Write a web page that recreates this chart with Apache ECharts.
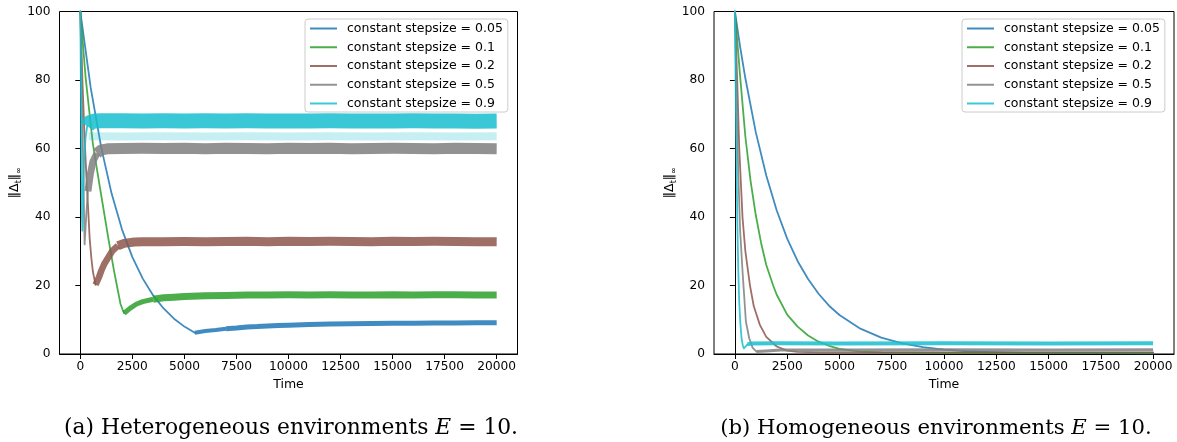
<!DOCTYPE html>
<html><head><meta charset="utf-8">
<script src="https://cdn.jsdelivr.net/npm/echarts@6/dist/echarts.min.js"></script>
<style>html,body{margin:0;padding:0;background:#fff}#c{width:1177px;height:442px}</style>
</head><body><div id="c"></div><script>
const seriesNames = ['constant stepsize = 0.05','constant stepsize = 0.1','constant stepsize = 0.2','constant stepsize = 0.5','constant stepsize = 0.9'];
const xTickValues = [0,2500,5000,7500,10000,12500,15000,17500,20000];
const captions = ['(a) Heterogeneous environments ', '(b) Homogeneous environments '];

// ---- (a) Heterogeneous: smooth transient part, early noisy rise, noisy steady part ----
const hetCurve005 = [[0,100],[500,77.7],[1000,60.4],[1500,46.9],[2000,36.4],[2500,28.3],[3000,22.0],[3500,17.1],[4000,13.3],[4500,10.3],[5000,8.0],[5500,6.2]];
const hetRise005 = [[5500,6.2],[6000,6.7],[6500,7.0],[7000,7.4]];
const hetNoise005 = [[7000,7.4],[7500,7.6],[8000,7.9],[8500,8.0],[9000,8.2],[9500,8.3],[10000,8.4],[11000,8.6],[12000,8.75],[13000,8.8],[14000,8.9],[15000,8.95],[16000,8.95],[17000,9.05],[18000,9.05],[19000,9.1],[20000,9.1]];
const hetCurve01 = [[0,100],[250,81],[446,70],[600,61.5],[815,53.3],[1000,46.5],[1326,34.5],[1613,24.5],[1930,14.6],[2100,11.9]];
const hetRise01 = [[2100,11.9],[2400,13.4],[2700,14.6],[3000,15.3],[3500,16.0]];
const hetNoise01 = [[3500,16.0],[4000,16.4],[4500,16.6],[5000,16.8],[6000,17.0],[7000,17.1],[8000,17.2],[9000,17.25],[10000,17.3],[11000,17.25],[12000,17.3],[13000,17.25],[14000,17.2],[15000,17.3],[16000,17.25],[17000,17.3],[18000,17.3],[19000,17.2],[20000,17.25]];
const hetCurve02 = [[0,100],[100,80],[206,63],[290,52],[365,43.6],[446,34],[530,28],[605,24],[734,20.2]];
const hetRise02 = [[734,20.2],[900,22.5],[1007,24.3],[1150,26.3],[1326,28.0],[1550,30.2],[1806,31.6]];
const hetNoise02 = [[1806,31.6],[2100,32.3],[2600,32.7],[3000,32.75],[4000,32.8],[5000,32.85],[6000,32.8],[7000,32.85],[8000,32.9],[9000,32.8],[10000,32.9],[11000,32.85],[12000,32.9],[13000,32.85],[14000,32.8],[15000,32.9],[16000,32.85],[17000,32.9],[18000,32.85],[19000,32.8],[20000,32.75]];
const hetCurve05 = [[0,100],[60,82],[130,58],[206,32],[280,40],[365,47.5]];
const hetRise05 = [[365,47.5],[480,52.5],[605,56.2],[800,58.6]];
const hetNoise05 = [[800,58.6],[1007,59.6],[1300,59.9],[2000,60.0],[3000,60.05],[4000,60.0],[5000,60.05],[6000,59.95],[7000,60.05],[8000,60.0],[9000,59.95],[10000,60.05],[11000,60.0],[12000,60.05],[13000,59.95],[14000,60.0],[15000,60.05],[16000,60.0],[17000,59.95],[18000,60.05],[19000,60.0],[20000,59.95]];
const hetCurve09 = [[0,100],[25,80],[50,58],[80,40],[100,36],[130,45],[180,56],[250,63],[330,66.5]];
const hetNoise09 = [[330,66.5],[450,67.6],[700,68.0],[1000,68.1],[2000,68.1],[3000,68.05],[4000,68.1],[5000,68.05],[6000,68.1],[7000,68.05],[8000,68.1],[9000,68.05],[10000,68.0],[11000,68.05],[12000,68.1],[13000,68.05],[14000,68.0],[15000,68.05],[16000,68.1],[17000,68.05],[18000,68.0],[19000,67.95],[20000,68.0]];
const hetFringe09 = [[400,63.6],[2000,63.5],[4000,63.6],[6000,63.5],[8000,63.6],[10000,63.5],[12000,63.6],[14000,63.5],[16000,63.6],[18000,63.5],[20000,63.6]];

// ---- (b) Homogeneous ----
const homCurve005 = [[0,100],[250,89.7],[500,80.5],[1000,64.7],[1500,52.1],[2000,41.9],[2500,33.7],[3000,27.1],[3500,21.9],[4000,17.6],[4500,14.1],[5000,11.4],[6000,7.4],[7000,4.8],[8000,3.1],[9000,2.0],[10000,1.3],[11000,0.85],[12000,0.6],[14000,0.35],[17000,0.25],[20000,0.2]];
const homCurve01 = [[0,100],[250,81],[500,63.5],[750,50.5],[1000,40.5],[1250,32.5],[1500,26],[1830,20],[2000,17.3],[2500,11.5],[3000,8.0],[3500,5.4],[4000,3.6],[4500,2.4],[5000,1.5],[6000,0.7],[7000,0.45],[10000,0.3],[20000,0.3]];
const homCurve02 = [[0,100],[111,79.6],[207,60.1],[366,39.7],[500,30],[716,20.2],[900,14],[1193,8.5],[1500,5],[2000,2.2],[2500,1.0],[3000,0.6],[4000,0.5],[20000,0.5]];
const homCurve05 = [[0,100],[50,84],[100,68],[159,53.4],[250,36],[366,24],[525,9.5],[684,4.6],[850,1.8],[1034,0.7]];
const homNoise05 = [[1034,0.7],[1500,0.9],[2200,1.2],[5000,1.2],[10000,1.25],[15000,1.2],[20000,1.25]];
const homCurve09 = [[0,100],[32,80],[60,64],[111,40],[160,25],[205,15.3],[260,9],[318,4.6],[380,2.4],[430,1.65],[500,2.0],[600,2.8]];
const homNoise09 = [[600,2.8],[800,3.1],[2000,3.15],[5000,3.1],[10000,3.15],[15000,3.1],[20000,3.15]];

const COLORS = ['rgba(31,119,180,0.85)','rgba(44,160,44,0.85)','rgba(140,86,75,0.85)','rgba(127,127,127,0.85)','rgba(23,190,207,0.85)'];
const FONT = 'DejaVu Sans';

function line(name, data, color, gi, width, cap) {
  return {type:'line', name, data, xAxisIndex:gi, yAxisIndex:gi, symbol:'none', showSymbol:false,
    color, lineStyle:{color, width, cap: cap||'round', join:'round'}, emphasis:{disabled:true}, silent:true, animation:false};
}

const series = [
  line(seriesNames[0], hetCurve005, COLORS[0], 0, 1.8), line('r0a', hetRise005, COLORS[0], 0, 4, 'butt'), line('n0a', hetNoise005, COLORS[0], 0, 5, 'butt'),
  line(seriesNames[1], hetCurve01, COLORS[1], 0, 1.8), line('r1a', hetRise01, COLORS[1], 0, 5, 'butt'), line('n1a', hetNoise01, COLORS[1], 0, 7, 'butt'),
  line(seriesNames[2], hetCurve02, COLORS[2], 0, 1.8), line('r2a', hetRise02, COLORS[2], 0, 6.5, 'butt'), line('n2a', hetNoise02, COLORS[2], 0, 9, 'butt'),
  line(seriesNames[3], hetCurve05, COLORS[3], 0, 1.8), line('r3a', hetRise05, COLORS[3], 0, 7, 'butt'), line('n3a', hetNoise05, COLORS[3], 0, 11, 'butt'),
  line('f4a', hetFringe09, 'rgba(23,190,207,0.25)', 0, 8, 'butt'),
  line(seriesNames[4], hetCurve09, COLORS[4], 0, 1.8), line('n4a', hetNoise09, COLORS[4], 0, 15, 'butt'),

  line(seriesNames[0], homCurve005, COLORS[0], 1, 1.8),
  line(seriesNames[1], homCurve01, COLORS[1], 1, 1.8),
  line(seriesNames[2], homCurve02, COLORS[2], 1, 1.8),
  line(seriesNames[3], homCurve05, COLORS[3], 1, 1.8), line('n3b', homNoise05, COLORS[3], 1, 3, 'butt'),
  line(seriesNames[4], homCurve09, COLORS[4], 1, 1.8), line('n4b', homNoise09, COLORS[4], 1, 4, 'butt')
];

function xAxis(gi) {
  return {type:'value', gridIndex:gi, min:-1000, max:21000, name:'Time', nameLocation:'middle', nameGap:24,
    nameTextStyle:{fontFamily:FONT, fontSize:12.5, color:'#000'},
    axisLine:{show:true, lineStyle:{color:'#000', width:1}},
    axisTick:{show:true, length:5, lineStyle:{color:'#000', width:1}, customValues:xTickValues},
    axisLabel:{fontFamily:FONT, fontSize:12.2, color:'#000', margin:7, customValues:xTickValues, formatter:v=>String(v)},
    splitLine:{show:false}};
}
function yAxis(gi) {
  return {type:'value', gridIndex:gi, min:0, max:100, interval:20,
    name:'{n|‖Δ}{s|t}{n|‖}{s|∞}', nameLocation:'middle', nameGap:35,
    nameTextStyle:{fontFamily:FONT, color:'#000', rich:{
      n:{fontFamily:FONT, fontSize:12.5, color:'#000', lineHeight:17, verticalAlign:'middle'},
      s:{fontFamily:FONT, fontSize:8, color:'#000', lineHeight:10, verticalAlign:'bottom'}}},
    axisLine:{show:true, lineStyle:{color:'#000', width:1}},
    axisTick:{show:true, length:5, lineStyle:{color:'#000', width:1}},
    axisLabel:{fontFamily:FONT, fontSize:12.2, color:'#000', margin:9},
    splitLine:{show:false}};
}
function legend(left) {
  return {orient:'vertical', left, top:19, data:seriesNames, selectedMode:false, icon:'rect',
    itemWidth:27, itemHeight:2, itemGap:5.75, padding:[3,5,2,5],
    backgroundColor:'rgba(255,255,255,0.8)', borderColor:'#cccccc', borderWidth:1, borderRadius:3,
    textStyle:{fontFamily:FONT, fontSize:12.5, color:'#000', lineHeight:13, padding:[0,0,0,5]}};
}
function caption(x, text, size) {
  return {type:'text', x, y:428, z:10, style:{text:'{r|'+text+'}{i|E}{r| = 10.}', align:'center', verticalAlign:'middle',
    rich:{r:{fontFamily:'DejaVu Serif', fontSize:size, fill:'#000', color:'#000'},
          i:{fontFamily:'DejaVu Serif', fontStyle:'italic', fontSize:size, fill:'#000', color:'#000'}}}};
}

const chart = echarts.init(document.getElementById('c'), null, {renderer:'canvas'});
chart.setOption({
  animation:false,
  backgroundColor:'#fff',
  grid:[
    {left:59.5, top:11.5, width:458, height:342.5, show:true, borderColor:'#000', borderWidth:1, containLabel:false, outerBoundsMode:'none'},
    {left:714, top:11.5, width:460, height:342.5, show:true, borderColor:'#000', borderWidth:1, containLabel:false, outerBoundsMode:'none'}
  ],
  xAxis:[xAxis(0), xAxis(1)],
  yAxis:[yAxis(0), yAxis(1)],
  legend:[legend(305), legend(962)],
  series,
  graphic:[caption(291, captions[0], 21.8), caption(936, captions[1], 21.2)]
});
</script></body></html>
